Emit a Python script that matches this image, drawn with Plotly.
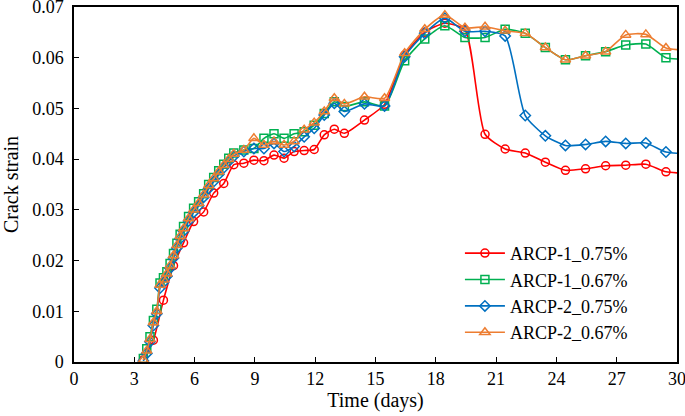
import plotly.graph_objects as go

# ---- data ----
t_early = [3.45, 3.62, 3.78, 3.95, 4.12, 4.28, 4.45, 4.62, 4.78, 4.95, 5.12, 5.28,
           5.45, 5.7, 5.95, 6.2, 6.45, 6.7, 6.95, 7.2, 7.45, 7.7, 7.95, 8.45]
t_late = [8.95, 9.45, 9.95, 10.45, 10.95, 11.45, 11.95, 12.45, 12.95, 13.45,
          14.45, 15.45, 16.45, 17.45, 18.45, 19.45, 20.45, 21.45, 22.45, 23.45,
          24.45, 25.45, 26.45, 27.45, 28.45, 29.45, 30.45]
t_red = [3.45, 3.95, 4.45, 4.95, 5.45, 5.95, 6.45, 6.95, 7.45, 7.95, 8.45] + t_late

arcp1_075 = [0.0004, 0.0043, 0.0122, 0.0190, 0.0235, 0.0277, 0.0296, 0.0333, 0.0352,
             0.0389, 0.0392,
             0.0398, 0.0397, 0.0408, 0.0402, 0.0415, 0.0417, 0.0419, 0.0448, 0.0459,
             0.0451, 0.0477, 0.0508, 0.0605, 0.0650, 0.0668, 0.0655, 0.0449, 0.0420,
             0.0412, 0.0394, 0.0378, 0.0381, 0.0387, 0.0388, 0.0390, 0.0375, 0.0372]

arcp1_067 = [0.0007, 0.0026, 0.0050, 0.0082, 0.0104, 0.0156, 0.0166, 0.0178, 0.0194,
             0.0214, 0.0234, 0.0252, 0.0267, 0.0287, 0.0303, 0.0316, 0.0332, 0.0350,
             0.0364, 0.0377, 0.0390, 0.0402, 0.0412, 0.0418,
             0.0421, 0.0441, 0.0450, 0.0441, 0.0450, 0.0454, 0.0467, 0.0490, 0.0513,
             0.0504, 0.0513, 0.0505, 0.0594, 0.0637, 0.0663, 0.0640, 0.0640, 0.0656,
             0.0648, 0.0620, 0.0596, 0.0604, 0.0612, 0.0625, 0.0627, 0.0600, 0.0597]

arcp2_075 = [0.0002, 0.0017, 0.0040, 0.0072, 0.0095, 0.0146, 0.0157, 0.0169, 0.0185,
             0.0205, 0.0225, 0.0243, 0.0258, 0.0278, 0.0295, 0.0308, 0.0325, 0.0342,
             0.0356, 0.0370, 0.0383, 0.0396, 0.0406, 0.0415,
             0.0421, 0.0421, 0.0431, 0.0415, 0.0425, 0.0444, 0.0461, 0.0487, 0.0510,
             0.0494, 0.0509, 0.0505, 0.0602, 0.0648, 0.0678, 0.0652, 0.0652, 0.0643,
             0.0486, 0.0446, 0.0427, 0.0429, 0.0435, 0.0431, 0.0432, 0.0414, 0.0411]

arcp2_067 = [0.0004, 0.0022, 0.0045, 0.0078, 0.0100, 0.0152, 0.0162, 0.0174, 0.0190,
             0.0210, 0.0230, 0.0248, 0.0263, 0.0283, 0.0300, 0.0313, 0.0330, 0.0348,
             0.0362, 0.0375, 0.0388, 0.0400, 0.0410, 0.0418,
             0.0441, 0.0428, 0.0435, 0.0428, 0.0435, 0.0458, 0.0472, 0.0494, 0.0520,
             0.0509, 0.0523, 0.0520, 0.0609, 0.0656, 0.0684, 0.0659, 0.0661, 0.0653,
             0.0648, 0.0620, 0.0596, 0.0604, 0.0612, 0.0645, 0.0646, 0.0619, 0.0615]

x_ticks = [0, 3, 6, 9, 12, 15, 18, 21, 24, 27, 30]
y_ticks = [0, 0.01, 0.02, 0.03, 0.04, 0.05, 0.06, 0.07]
y_tick_text = ["0", "0.01", "0.02", "0.03", "0.04", "0.05", "0.06", "0.07"]

series = [
    ("ARCP-1_0.75%", t_red, arcp1_075, "#FF0000", "circle-open", 8),
    ("ARCP-1_0.67%", t_early + t_late, arcp1_067, "#00B050", "square-open", 8),
    ("ARCP-2_0.75%", t_early + t_late, arcp2_075, "#0070C0", "diamond-open", 8),
    ("ARCP-2_0.67%", t_early + t_late, arcp2_067, "#ED7D31", "triangle-up-open", 9),
]

FONT = "Liberation Serif, Times New Roman, serif"

fig = go.Figure()
for name, xs, ys, col, sym, sz in series:
    fig.add_trace(go.Scatter(
        x=xs, y=ys, name=name, mode="lines+markers",
        line=dict(color=col, width=1.6, shape="spline", smoothing=0.6),
        marker=dict(symbol=sym, size=sz, color=col, line=dict(color=col, width=1.5)),
        cliponaxis=True,
    ))

fig.update_layout(
    width=685, height=416,
    margin=dict(l=74, r=8, t=7, b=54, autoexpand=False),
    paper_bgcolor="white", plot_bgcolor="white",
    font=dict(family=FONT, size=18, color="black"),
    showlegend=True,
    legend=dict(x=0.64, y=0.358, xanchor="left", yanchor="top",
                bgcolor="rgba(0,0,0,0)", borderwidth=0,
                font=dict(family=FONT, size=18, color="black"),
                itemwidth=40, tracegroupgap=0),
)
fig.update_xaxes(
    range=[0, 30], tickvals=x_ticks, ticks="inside", ticklen=5, tickwidth=1,
    tickcolor="black", showline=True, linecolor="black", linewidth=1.5,
    mirror=True, showgrid=False, zeroline=False, automargin=False,
    ticklabeloverflow="allow",
    title=dict(text="Time (days)", font=dict(family=FONT, size=20), standoff=5),
    tickfont=dict(family=FONT, size=18),
)
fig.update_yaxes(
    range=[0, 0.07], tickvals=y_ticks, ticktext=y_tick_text, ticks="inside",
    ticklen=5, tickwidth=1, tickcolor="black", showline=True, linecolor="black",
    linewidth=1.5, mirror=True, showgrid=False, zeroline=False, automargin=False,
    ticklabelstandoff=5, ticklabeloverflow="allow",
    title=dict(text="Crack strain", font=dict(family=FONT, size=20), standoff=12),
    tickfont=dict(family=FONT, size=18),
)

fig.write_html("out.html", config={"displayModeBar": False},
               post_script="document.body.style.margin='0';")
